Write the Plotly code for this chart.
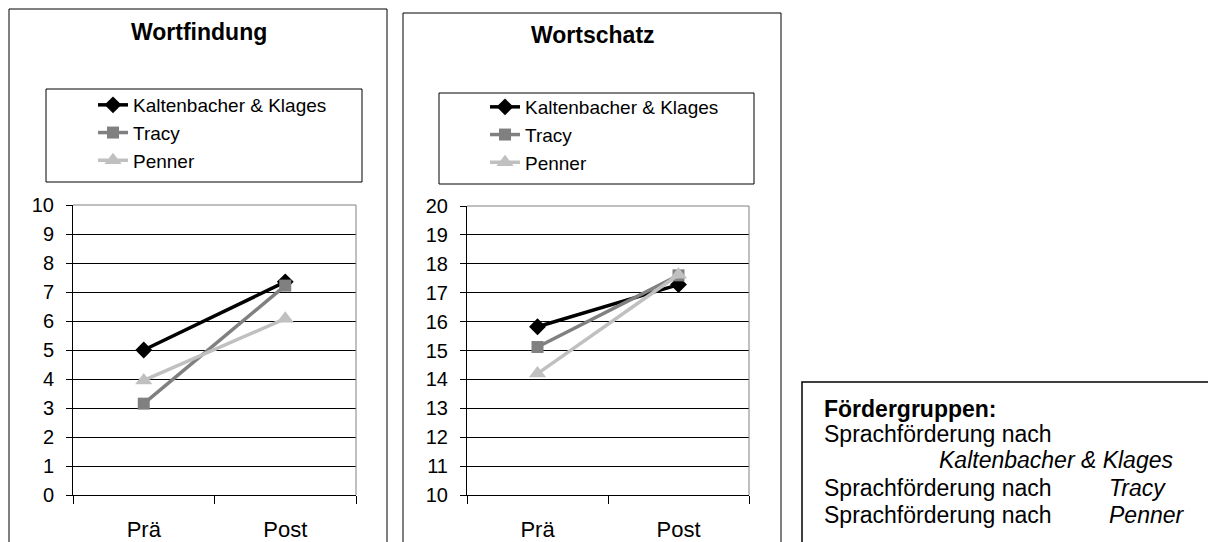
import plotly.graph_objects as go

W, H = 1208, 542

categories = ["Prä", "Post"]
series_names = ["Kaltenbacher & Klages", "Tracy", "Penner"]

wortfindung_kk = [5.0, 7.35]
wortfindung_tracy = [3.15, 7.22]
wortfindung_penner = [3.95, 6.08]

wortschatz_kk = [15.82, 17.28]
wortschatz_tracy = [15.12, 17.6]
wortschatz_penner = [14.2, 17.62]

panel_titles = ["Wortfindung", "Wortschatz"]
y_ticks_wf = list(range(0, 11))
y_ticks_ws = list(range(10, 21))

box_title = "Fördergruppen:"
box_prefix = "Sprachförderung nach"

colors = ["#000000", "#808080", "#c0c0c0"]
symbols = ["diamond", "square", "triangle-up"]
msizes = [13, 12, 15]

FONT = "Arial, Liberation Sans, sans-serif"


def px(x):
    return x / W


def py(y):
    return 1 - y / H


fig = go.Figure()

data_sets = [
    ([wortfindung_kk, wortfindung_tracy, wortfindung_penner], "x", "y", "legend"),
    ([wortschatz_kk, wortschatz_tracy, wortschatz_penner], "x2", "y2", "legend2"),
]
for vals, xa, ya, lg in data_sets:
    for name, v, c, s, ms in zip(series_names, vals, colors, symbols, msizes):
        fig.add_trace(go.Scatter(
            x=categories, y=v, name=name, mode="lines+markers",
            line=dict(color=c, width=3.5),
            marker=dict(symbol=s, size=ms, color=c),
            xaxis=xa, yaxis=ya, legend=lg,
        ))

xcommon = dict(
    type="category", tickson="boundaries", ticks="outside", ticklen=8,
    tickcolor="#000", showline=True, linecolor="#000", linewidth=1,
    showgrid=False, range=[-0.5, 1.5],
    tickfont=dict(family=FONT, size=22, color="#000"),
    ticklabelstandoff=15, fixedrange=True, automargin=False,
)
ycommon = dict(
    ticks="outside", ticklen=6, tickcolor="#000", showline=True,
    linecolor="#000", linewidth=1, showgrid=True, gridcolor="#000",
    gridwidth=1, dtick=1, tickfont=dict(family=FONT, size=20, color="#000"),
    ticklabelstandoff=8, zeroline=False, fixedrange=True, automargin=False,
)

fig.update_layout(
    template="none",
    width=W, height=H,
    margin=dict(l=0, r=0, t=0, b=0, autoexpand=False),
    paper_bgcolor="white", plot_bgcolor="white",
    font=dict(family=FONT, color="#000"),
    xaxis=dict(domain=[px(73), px(356)], anchor="y", **xcommon),
    yaxis=dict(domain=[py(495), py(205)], anchor="x", range=[0, 10],
               tickvals=y_ticks_wf, **ycommon),
    xaxis2=dict(domain=[px(467), px(749)], anchor="y2", **xcommon),
    yaxis2=dict(domain=[py(495), py(206)], anchor="x2", range=[10, 20],
                tickvals=y_ticks_ws, **ycommon),
    legend=dict(x=px(93), y=py(86), xanchor="left", yanchor="top",
                bgcolor="rgba(0,0,0,0)", borderwidth=0,
                font=dict(family=FONT, size=19, color="#000"),
                itemclick=False, itemdoubleclick=False),
    legend2=dict(x=px(485), y=py(88), xanchor="left", yanchor="top",
                 bgcolor="rgba(0,0,0,0)", borderwidth=0,
                 font=dict(family=FONT, size=19, color="#000"),
                 itemclick=False, itemdoubleclick=False),
    showlegend=True,
)

shapes = []
# outer panel frames
shapes.append(dict(type="rect", xref="paper", yref="paper",
                   x0=px(9), x1=px(387), y0=py(560), y1=py(9),
                   line=dict(color="#000", width=1), layer="below"))
shapes.append(dict(type="rect", xref="paper", yref="paper",
                   x0=px(403), x1=px(781), y0=py(560), y1=py(13),
                   line=dict(color="#000", width=1), layer="below"))
# legend frames
shapes.append(dict(type="rect", xref="paper", yref="paper",
                   x0=px(46), x1=px(362), y0=py(182), y1=py(89),
                   line=dict(color="#000", width=1)))
shapes.append(dict(type="rect", xref="paper", yref="paper",
                   x0=px(439), x1=px(754), y0=py(184), y1=py(93),
                   line=dict(color="#000", width=1)))
# plot area top/right border in gray
for xr, yr in [("x domain", "y domain"), ("x2 domain", "y2 domain")]:
    shapes.append(dict(type="path", xref=xr, yref=yr,
                       path="M 0,1 L 1,1 L 1,0",
                       line=dict(color="#808080", width=1), layer="above"))
# Fördergruppen box
shapes.append(dict(type="rect", xref="paper", yref="paper",
                   x0=px(802), x1=px(1215), y0=py(560), y1=py(382),
                   line=dict(color="#000", width=1.5)))
fig.update_layout(shapes=shapes)

ann = []
tf = dict(family=FONT, size=23, color="#000")
ann.append(dict(text="<b>%s</b>" % panel_titles[0], x=px(199), y=py(32),
                xref="paper", yref="paper", showarrow=False,
                xanchor="center", yanchor="middle", font=tf))
ann.append(dict(text="<b>%s</b>" % panel_titles[1], x=px(593), y=py(35),
                xref="paper", yref="paper", showarrow=False,
                xanchor="center", yanchor="middle", font=tf))

bf = dict(family=FONT, size=23, color="#000")
box_lines = [
    ("<b>%s</b>" % box_title, 822, 409),
    (box_prefix, 822, 434),
    ("<i>%s</i>" % series_names[0], 937, 460),
    (box_prefix, 822, 488),
    ("<i>%s</i>" % series_names[1], 1107, 488),
    (box_prefix, 822, 515),
    ("<i>%s</i>" % series_names[2], 1107, 515),
]
for t, x, y in box_lines:
    ann.append(dict(text=t, x=px(x), y=py(y), xref="paper", yref="paper",
                    showarrow=False, xanchor="left", yanchor="middle",
                    font=bf))
fig.update_layout(annotations=ann)

fig.write_html("out.html", config={"displayModeBar": False},
               post_script="document.body.style.margin='0px';")
